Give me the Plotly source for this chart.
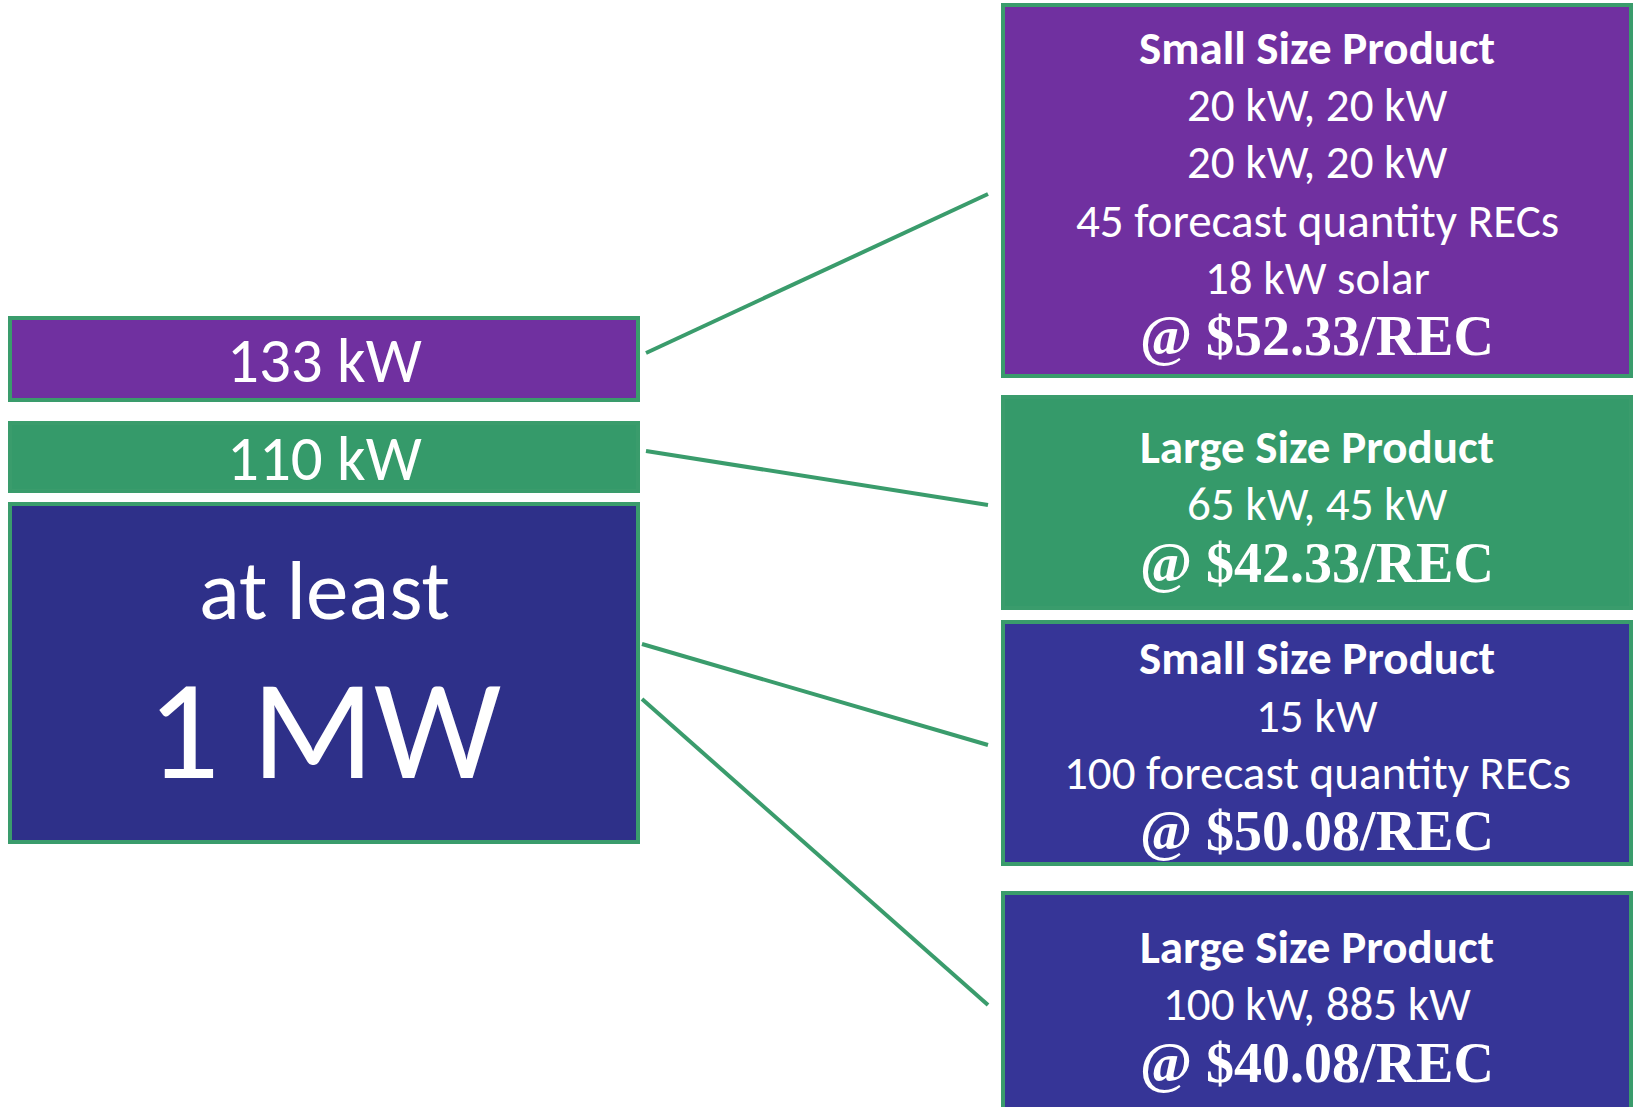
import plotly.graph_objects as go

# ---------------- data ----------------
left_values = ["133 kW", "110 kW"]
total_label = ["at least", "1 MW"]
product_titles = ["Small Size Product", "Large Size Product", "Small Size Product", "Large Size Product"]
product_details = [
    ["20 kW, 20 kW", "20 kW, 20 kW", "45 forecast quantity RECs", "18 kW solar"],
    ["65 kW, 45 kW"],
    ["15 kW", "100 forecast quantity RECs"],
    ["100 kW, 885 kW"],
]
product_prices = ["@ $52.33/REC", "@ $42.33/REC", "@ $50.08/REC", "@ $40.08/REC"]

# ---------------- layout / style ----------------
W, H = 1633, 1107
PURPLE = "#7030A0"
GREEN = "#359A6A"
NAVY_L = "#2E3089"
NAVY_R = "#363597"
EDGE = "#3A9C6C"
SANS = "Carlito, Calibri, Lato, sans-serif"
SERIF = "Georgia, 'Liberation Serif', serif"

left_x = (10, 638)
left_y = [(318, 400), (423, 491), (504, 842)]
left_fill = [PURPLE, GREEN, NAVY_L]
left_text_y = [360, 458]
total_text_y = [590, 729]

right_x = (1003, 1631)
right_y = [(5, 376), (397, 608), (622, 864), (893, 1130)]
right_fill = [PURPLE, GREEN, NAVY_R, NAVY_R]
right_text_y = [
    [48, 105, 162, 221, 278, 336],
    [447, 504, 563],
    [658, 716, 773, 831],
    [947, 1004, 1063],
]

connectors = [
    (646, 353, 988, 194),
    (646, 451, 988, 505),
    (642, 644, 988, 745),
    (642, 699, 988, 1005),
]

fig = go.Figure()
shapes = []
ann = []

for (y0, y1), fill in zip(left_y, left_fill):
    shapes.append(dict(type="rect", xref="x", yref="y", x0=left_x[0], x1=left_x[1],
                       y0=y0, y1=y1, fillcolor=fill, line=dict(color=EDGE, width=4), layer="below"))
for (y0, y1), fill in zip(right_y, right_fill):
    shapes.append(dict(type="rect", xref="x", yref="y", x0=right_x[0], x1=right_x[1],
                       y0=y0, y1=y1, fillcolor=fill, line=dict(color=EDGE, width=4), layer="below"))
for x0, y0, x1, y1 in connectors:
    shapes.append(dict(type="line", xref="x", yref="y", x0=x0, y0=y0, x1=x1, y1=y1,
                       line=dict(color=EDGE, width=4)))

cx_left = (left_x[0] + left_x[1]) / 2
cx_right = (right_x[0] + right_x[1]) / 2

def add_text(x, y, text, size, family=SANS):
    ann.append(dict(x=x, y=y, xref="x", yref="y", text=text, showarrow=False,
                    xanchor="center", yanchor="middle",
                    font=dict(family=family, size=size, color="white")))

for t, y in zip(left_values, left_text_y):
    add_text(cx_left, y, t, 63)
add_text(cx_left, total_text_y[0], total_label[0], 85)
add_text(cx_left, total_text_y[1], total_label[1], 143)

for i in range(4):
    ys = right_text_y[i]
    add_text(cx_right, ys[0], "<b>" + product_titles[i] + "</b>", 47)
    for d, y in zip(product_details[i], ys[1:-1]):
        add_text(cx_right, y, d, 47)
    add_text(cx_right, ys[-1], "<b>" + product_prices[i] + "</b>", 56, SERIF)

fig.update_layout(
    width=W, height=H,
    margin=dict(l=0, r=0, t=0, b=0),
    paper_bgcolor="white", plot_bgcolor="white",
    xaxis=dict(range=[0, W], visible=False, fixedrange=True),
    yaxis=dict(range=[H, 0], visible=False, fixedrange=True),
    shapes=shapes, annotations=ann, showlegend=False,
)
fig.write_html(
    "out.html",
    config={"displayModeBar": False},
    post_script="document.body.style.margin='0';document.body.style.overflow='hidden';",
)
